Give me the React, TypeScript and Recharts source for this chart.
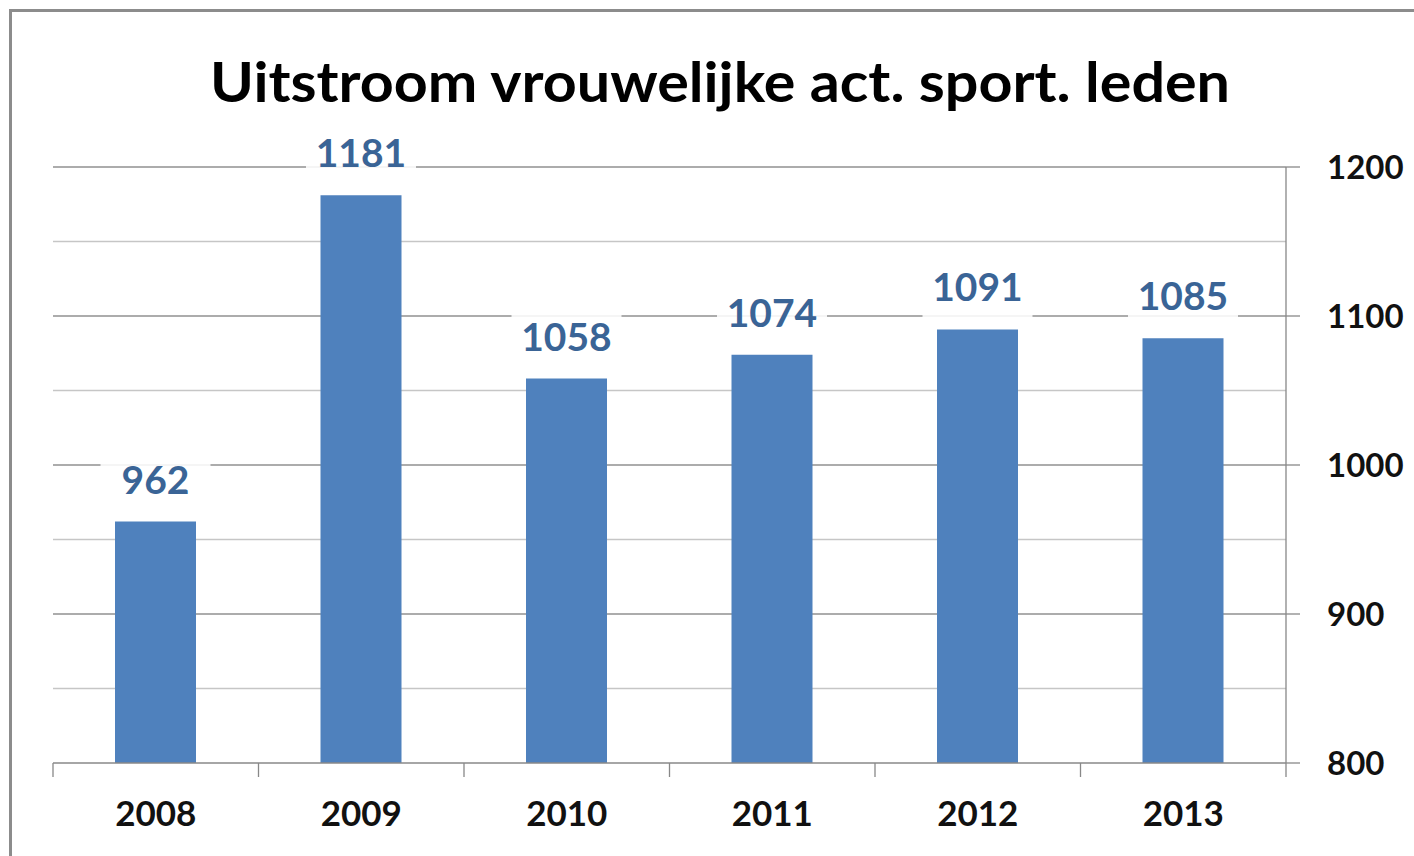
import React from 'react';
import { BarChart, Bar, XAxis, YAxis, CartesianGrid, LabelList } from 'recharts';

const years = ['2008', '2009', '2010', '2011', '2012', '2013'];
const values = [962, 1181, 1058, 1074, 1091, 1085];
const yTicks = [800, 850, 900, 950, 1000, 1050, 1100, 1150, 1200];
const majorTicks = [900, 1000, 1100, 1200];
const minorTicks = [850, 950, 1050, 1150];
const title = 'Uitstroom vrouwelijke act. sport. leden';

const data = years.map((y, i) => ({ year: y, value: values[i] }));

const FONT = 'Lato, "Open Sans", sans-serif';
const AXIS = '#888888';

const XTick = (props: any) => {
  const { x, y, payload, index, width, visibleTicksCount } = props;
  const band = width / visibleTicksCount;
  const left = x - band / 2;
  const right = x + band / 2;
  return (
    <g>
      <line x1={left} y1={y} x2={left} y2={y + 14} stroke={AXIS} strokeWidth={1.3} />
      {index === visibleTicksCount - 1 && (
        <line x1={right} y1={y} x2={right} y2={y + 14} stroke={AXIS} strokeWidth={1.3} />
      )}
      <text x={x} y={y + 63} textAnchor="middle" fontFamily={FONT} fontWeight={700} fontSize={35} fill="#111">
        {payload.value}
      </text>
    </g>
  );
};

const YTick = (props: any) => {
  const { x, y, payload } = props;
  if (payload.value % 100 !== 0) return <g />;
  return (
    <g>
      <line x1={x} y1={y} x2={x + 14} y2={y} stroke={AXIS} strokeWidth={1.3} />
      <text x={x + 41} y={y + 12} textAnchor="start" fontFamily={FONT} fontWeight={700} fontSize={33} fill="#111">
        {payload.value}
      </text>
    </g>
  );
};

const ValueLabel = (props: any) => {
  const { x, y, width, value } = props;
  const cx = x + width / 2;
  return (
    <g>
      <rect x={cx - 55} y={y - 66} width={110} height={58} fill="#ffffff" fillOpacity={0.88} />
      <text x={cx} y={y - 28} textAnchor="middle" fontFamily={FONT} fontWeight={700} fontSize={39} fill="#3a6496">
        {value}
      </text>
    </g>
  );
};

export default function App() {
  return (
    <div style={{ position: 'absolute', left: 0, top: 0, width: 1414, height: 856, overflow: 'hidden', background: '#fff' }}>
      <div
        style={{
          position: 'absolute',
          left: 9,
          top: 9,
          width: 2000,
          height: 2000,
          border: '3px solid #8c8c8c',
          boxSizing: 'border-box',
        }}
      />
      <svg width={1414} height={130} style={{ position: 'absolute', left: 0, top: 0 }}>
        <text
          x={720}
          y={102}
          textAnchor="middle"
          fontFamily={FONT}
          fontWeight={700}
          fontSize={56}
          fill="#000"
          textLength={1020}
          lengthAdjust="spacingAndGlyphs"
        >
          {title}
        </text>
      </svg>
      <div style={{ position: 'absolute', left: 0, top: 0 }}>
        <BarChart width={1414} height={856} data={data} margin={{ top: 167, left: 53, right: 28, bottom: 33 }}>
          <CartesianGrid vertical={false} horizontalValues={minorTicks} stroke="#c6c6c6" strokeWidth={1.3} />
          <CartesianGrid vertical={false} horizontalValues={majorTicks} stroke="#909090" strokeWidth={1.3} />
          <XAxis
            dataKey="year"
            height={60}
            axisLine={{ stroke: AXIS, strokeWidth: 1.3 }}
            tickLine={false}
            tickSize={0}
            tickMargin={0}
            tick={<XTick />}
            interval={0}
          />
          <YAxis
            orientation="right"
            width={100}
            domain={[800, 1200]}
            ticks={yTicks}
            interval={0}
            allowDataOverflow
            axisLine={{ stroke: AXIS, strokeWidth: 1.3 }}
            tickLine={false}
            tickSize={0}
            tickMargin={0}
            tick={<YTick />}
          />
          <Bar dataKey="value" fill="#4f81bd" barSize={81} isAnimationActive={false}>
            <LabelList dataKey="value" content={<ValueLabel />} />
          </Bar>
        </BarChart>
      </div>
    </div>
  );
}
